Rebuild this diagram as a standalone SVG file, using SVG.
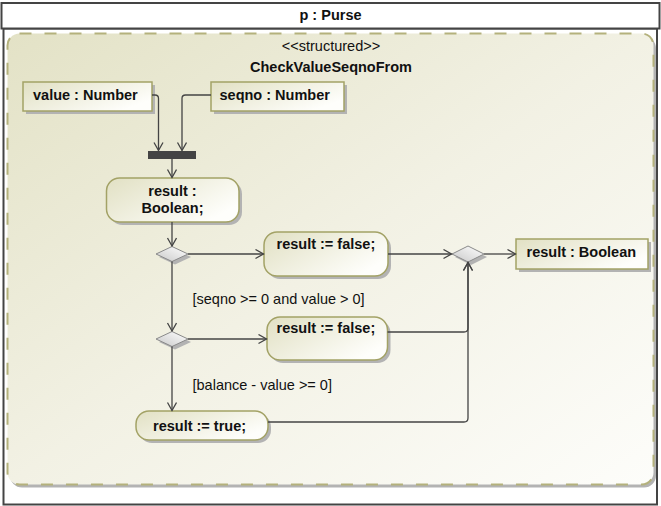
<svg xmlns="http://www.w3.org/2000/svg" width="661" height="506" viewBox="0 0 661 506">
  <defs>
    <linearGradient id="regionFill" x1="0" y1="0" x2="1" y2="1">
      <stop offset="0" stop-color="#e3e2c6"/>
      <stop offset="0.5" stop-color="#f2f1e4"/>
      <stop offset="1" stop-color="#fdfdfa"/>
    </linearGradient>
    <linearGradient id="nodeFill" x1="0" y1="0" x2="1" y2="0.6">
      <stop offset="0" stop-color="#e1e0c3"/>
      <stop offset="1" stop-color="#fefefb"/>
    </linearGradient>
    <linearGradient id="diamondFill" x1="0" y1="1" x2="1" y2="0">
      <stop offset="0" stop-color="#c8c8c8"/>
      <stop offset="1" stop-color="#ffffff"/>
    </linearGradient>
    <marker id="arrow" markerWidth="12" markerHeight="12" refX="9" refY="5" orient="auto" markerUnits="userSpaceOnUse">
      <path d="M1,0.5 L9,5 L1,9.5" fill="none" stroke="#444" stroke-width="1.3"/>
    </marker>
  </defs>
  <style>
    .frame { fill: #ffffff; stroke: #444444; stroke-width: 2; }
    .region { fill: url(#regionFill); stroke: #b4b17c; stroke-width: 2; stroke-dasharray: 12 13; }
    .shadow { fill: #b3b3b3; }
    .node { fill: url(#nodeFill); stroke: #a3a266; stroke-width: 1.5; }
    .diamond { fill: url(#diamondFill); stroke: #8a8a8a; stroke-width: 1; }
    .edge { fill: none; stroke: #444444; stroke-width: 1.3; marker-end: url(#arrow); }
    .bold { font-family: "Liberation Sans", Arial, sans-serif; font-size: 14.5px; font-weight: bold; fill: #111; }
    .plain { font-family: "Liberation Sans", Arial, sans-serif; font-size: 14.5px; fill: #111; }
  </style>

  <!-- partition frame: p : Purse -->
  <g id="purse">
    <rect class="frame" x="3.5" y="28.5" width="653.5" height="476"/>
    <rect class="frame" x="1.5" y="3" width="658" height="25.5"/>
    <text class="bold" x="330.5" y="19.5" text-anchor="middle">p : Purse</text>
  </g>

  <!-- structured activity region -->
  <g id="checkValueSeqnoFrom">
    <rect class="shadow" x="10" y="36.5" width="646" height="451" rx="12"/>
    <rect class="region" x="7.5" y="33.5" width="646" height="451" rx="12"/>
    <text class="plain" x="331" y="51" text-anchor="middle">&lt;&lt;structured&gt;&gt;</text>
    <text class="bold" x="331" y="72" text-anchor="middle">CheckValueSeqnoFrom</text>
  </g>

  <!-- input pins -->
  <g id="valuePin">
    <rect class="shadow" x="26" y="85" width="129" height="29"/>
    <rect class="node" x="23" y="82" width="129" height="29"/>
    <text class="bold" x="33" y="100">value : Number</text>
  </g>
  <g id="seqnoPin">
    <rect class="shadow" x="214" y="85" width="133" height="29"/>
    <rect class="node" x="211" y="82" width="133" height="29"/>
    <text class="bold" x="219.5" y="100">seqno : Number</text>
  </g>

  <!-- join bar -->
  <g id="join">
    <rect x="148" y="151" width="48" height="8" fill="#444444"/>
  </g>

  <!-- declaration action -->
  <g id="declareResult">
    <rect class="shadow" x="109.5" y="181" width="132.5" height="44" rx="13"/>
    <rect class="node" x="106.5" y="178" width="132.5" height="44" rx="13"/>
    <text class="bold" x="172.5" y="196" text-anchor="middle">result :</text>
    <text class="bold" x="172.5" y="212.5" text-anchor="middle">Boolean;</text>
  </g>

  <!-- decision nodes -->
  <g id="decision1">
    <polygon class="shadow" points="159,257 175,249.5 191,257 175,264.5"/>
    <polygon class="diamond" points="156,254 172,246.5 188,254 172,261.5"/>
  </g>
  <g id="decision2">
    <polygon class="shadow" points="159,342 175,334.5 191,342 175,349.5"/>
    <polygon class="diamond" points="156,339 172,331.5 188,339 172,346.5"/>
  </g>

  <!-- assignment actions -->
  <g id="assignFalse1">
    <rect class="shadow" x="267" y="235" width="124" height="44" rx="13"/>
    <rect class="node" x="264" y="232" width="124" height="44" rx="13"/>
    <text class="bold" x="276.5" y="248.5">result := false;</text>
  </g>
  <g id="assignFalse2">
    <rect class="shadow" x="270" y="320" width="120.5" height="43" rx="13"/>
    <rect class="node" x="267" y="317" width="120.5" height="43" rx="13"/>
    <text class="bold" x="276.5" y="333">result := false;</text>
  </g>
  <g id="assignTrue">
    <rect class="shadow" x="139" y="414" width="132" height="29" rx="13"/>
    <rect class="node" x="136" y="411" width="132" height="29" rx="13"/>
    <text class="bold" x="153" y="431">result := true;</text>
  </g>

  <!-- merge node -->
  <g id="merge">
    <polygon class="shadow" points="455,257 471,249 487,257 471,265"/>
    <polygon class="diamond" points="452,254 468,246 484,254 468,262"/>
  </g>

  <!-- output pin -->
  <g id="resultPin">
    <rect class="shadow" x="519" y="242" width="132" height="30"/>
    <rect class="node" x="516" y="239" width="132" height="30"/>
    <text class="bold" x="526.5" y="256.5">result : Boolean</text>
  </g>

  <!-- guards -->
  <g id="guards">
    <text class="plain" x="192.5" y="304">[seqno &gt;= 0 and value &gt; 0]</text>
    <text class="plain" x="192.5" y="390">[balance - value &gt;= 0]</text>
  </g>

  <!-- control and object flows -->
  <g id="connectors">
    <path class="edge" d="M152,95 H155 Q158.5,95 158.5,98.5 V150.5"/>
    <path class="edge" d="M211,95 H185.5 Q182,95 182,98.5 V150.5"/>
    <path class="edge" d="M172,159 V177.5"/>
    <path class="edge" d="M172,222 V246"/>
    <path class="edge" d="M188,254 H263.5"/>
    <path class="edge" d="M172,261.5 V331"/>
    <path class="edge" d="M188,339 H266.5"/>
    <path class="edge" d="M172,346.5 V410.5"/>
    <path class="edge" d="M388,254 H451.5"/>
    <path class="edge" d="M387.5,332 H464 Q468,332 468,328 V262.5"/>
    <path class="edge" d="M268,422 H464 Q468,422 468,418 V262.5"/>
    <path class="edge" d="M484,254 H515.5"/>
  </g>
</svg>
